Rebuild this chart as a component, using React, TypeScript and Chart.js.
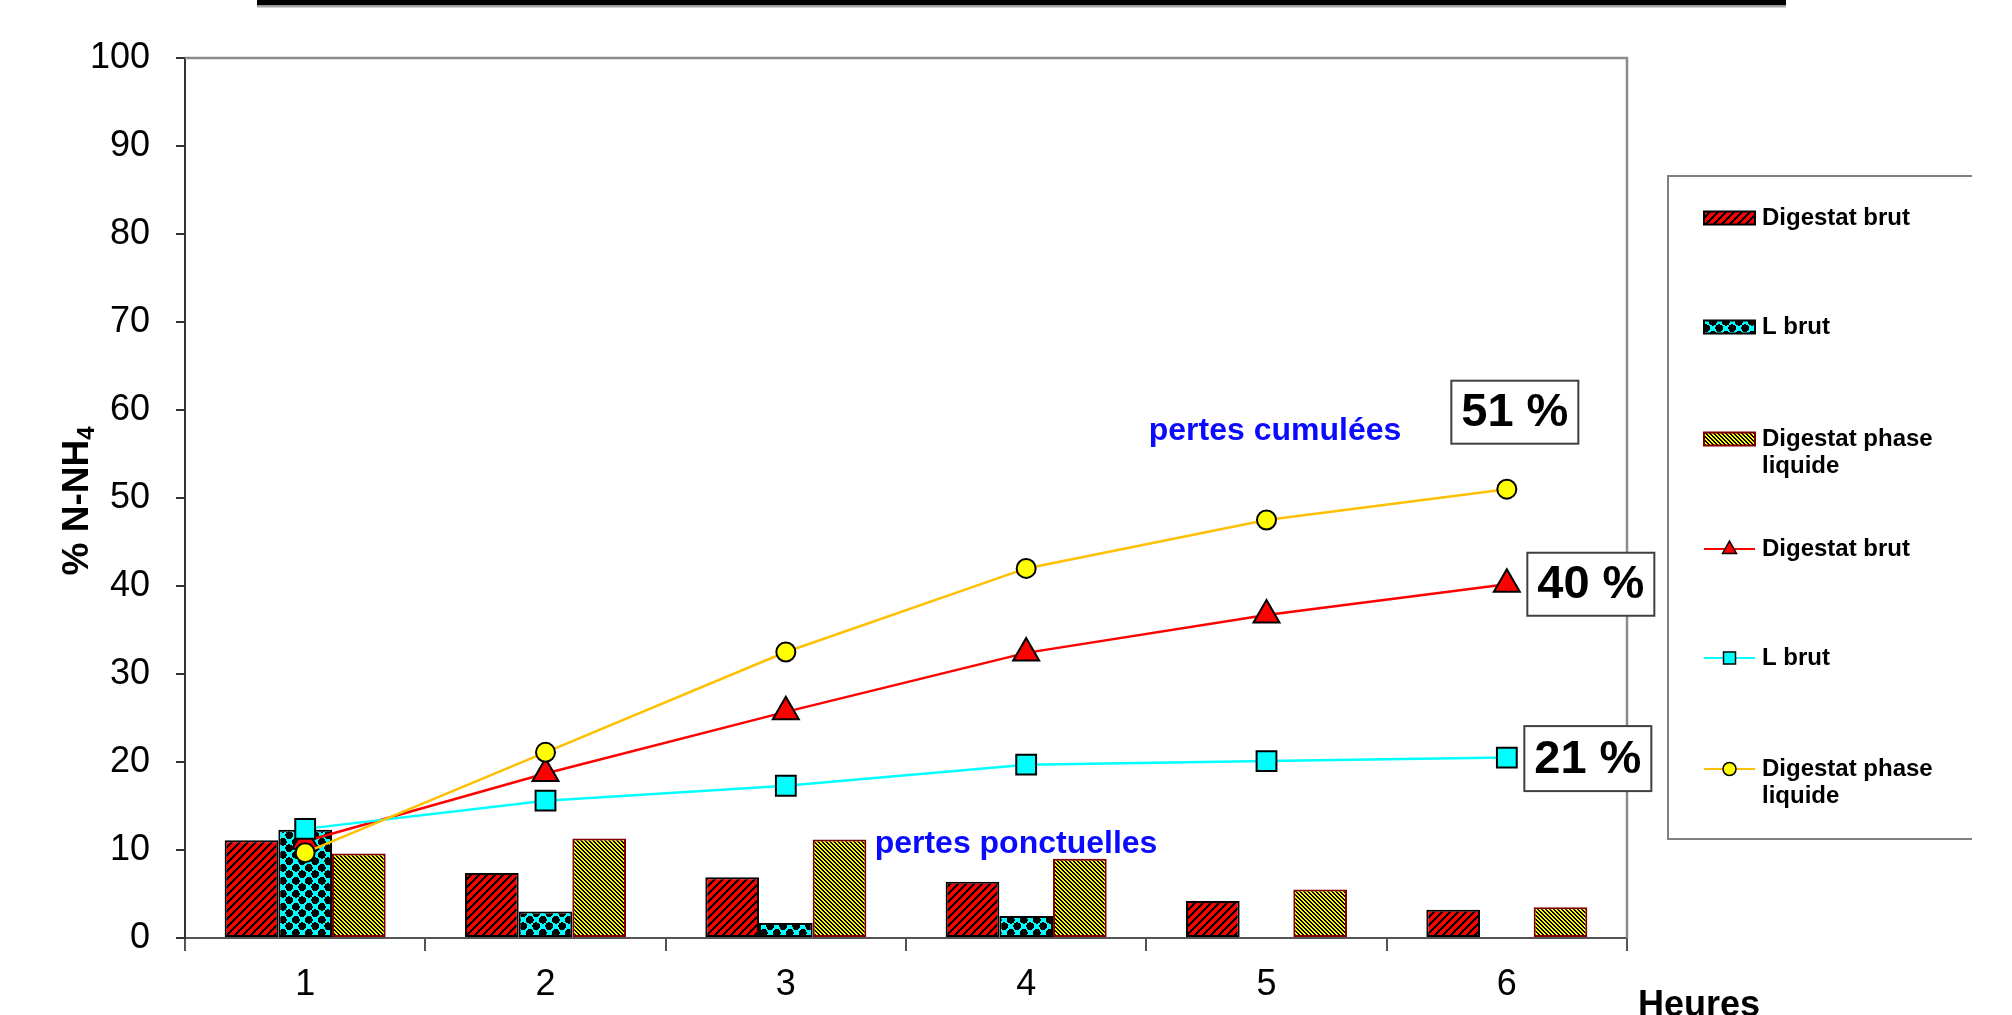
import React, { useEffect, useRef } from 'react';
import { Chart, registerables } from 'chart.js';

Chart.register(...registerables);

// Heures
const HOURS = ['1', '2', '3', '4', '5', '6'];

// Pertes ponctuelles (% N-NH4), bars
const PONCT_DIGESTAT_BRUT = [11.1, 7.4, 6.9, 6.4, 4.2, 3.2];
const PONCT_L_BRUT = [12.3, 3.0, 1.7, 2.5, 0, 0];
const PONCT_PHASE_LIQUIDE = [9.6, 11.3, 11.2, 9.0, 5.5, 3.5];

// Pertes cumulées (% N-NH4), lines
const CUMUL_DIGESTAT_BRUT = [11.0, 18.7, 25.7, 32.4, 36.7, 40.2];
const CUMUL_L_BRUT = [12.4, 15.6, 17.3, 19.7, 20.1, 20.5];
const CUMUL_PHASE_LIQUIDE = [9.7, 21.1, 32.5, 42.0, 47.5, 51.0];

const SERIES_NAMES = ['Digestat brut', 'L brut', 'Digestat phase liquide'];

const Y_MIN = 0;
const Y_MAX = 100;
const Y_STEP = 10;

const FONT = '"Liberation Sans", Arial, Helvetica, sans-serif';

type Ink = (x: number, y: number) => boolean;

function pixelPattern(w: number, h: number, bg: string, fg: string, ink: Ink): CanvasPattern {
  const c = document.createElement('canvas');
  c.width = w;
  c.height = h;
  const g = c.getContext('2d') as CanvasRenderingContext2D;
  g.fillStyle = bg;
  g.fillRect(0, 0, w, h);
  g.fillStyle = fg;
  for (let y = 0; y < h; y++) {
    for (let x = 0; x < w; x++) {
      if (ink(x, y)) g.fillRect(x, y, 1, 1);
    }
  }
  return g.createPattern(c, 'repeat') as CanvasPattern;
}

function makePatterns() {
  // red with black "/" hatching
  const red = pixelPattern(8, 8, '#ff0000', '#000000', (x, y) => (x + y) % 8 < 3);
  // cyan with black dots on a diamond lattice
  const S = 13;
  const centres: [number, number][] = [];
  for (const ox of [-S, 0, S]) {
    for (const oy of [-S, 0, S]) {
      centres.push([S / 4 + ox, S / 4 + oy]);
      centres.push([(3 * S) / 4 + ox, (3 * S) / 4 + oy]);
    }
  }
  const cyan = pixelPattern(S, S, '#00ffff', '#000000', (x, y) =>
    centres.some(([cx, cy]) => Math.hypot(x + 0.5 - cx, y + 0.5 - cy) < 3.9)
  );
  // yellow with dense black "\" hatching
  const yellow = pixelPattern(4, 4, '#ffff00', '#000000', (x, y) => (x - y + 8) % 4 < 2);
  return { red, cyan, yellow };
}

function wrapText(ctx: CanvasRenderingContext2D, text: string, maxW: number): string[] {
  const words = text.split(' ');
  const lines: string[] = [];
  let cur = '';
  for (const w of words) {
    const t = cur ? cur + ' ' + w : w;
    if (cur && ctx.measureText(t).width > maxW) {
      lines.push(cur);
      cur = w;
    } else {
      cur = t;
    }
  }
  if (cur) lines.push(cur);
  return lines;
}

export default function App() {
  const ref = useRef<HTMLCanvasElement | null>(null);

  useEffect(() => {
    const canvas = ref.current;
    if (!canvas) return;
    const pat = makePatterns();

    const barFills = [pat.red, pat.cyan, pat.yellow];
    const barBorders = ['#000000', '#000000', '#800000'];
    const lineColors = ['#ff0000', '#00ffff', '#ffc000'];
    const markerFills = ['#ff0000', '#00ffff', '#ffff00'];
    const markerStyles = ['triangle', 'rect', 'circle'];

    const decor = {
      id: 'decor',
      beforeDatasetsDraw(chart: any) {
        const ctx: CanvasRenderingContext2D = chart.ctx;
        const { left, right, top, bottom } = chart.chartArea;
        ctx.save();
        ctx.strokeStyle = '#8c8c8c';
        ctx.lineWidth = 2.5;
        ctx.beginPath();
        ctx.moveTo(left, top);
        ctx.lineTo(right, top);
        ctx.lineTo(right, bottom);
        ctx.stroke();
        ctx.restore();
      },
      afterDraw(chart: any) {
        const ctx: CanvasRenderingContext2D = chart.ctx;
        ctx.save();

        // header rule
        ctx.fillStyle = '#000000';
        ctx.fillRect(257, 0, 1529, 5.5);
        ctx.fillStyle = '#a8a8a8';
        ctx.fillRect(257, 5.5, 1529, 2);

        // y axis title with subscript
        ctx.save();
        ctx.translate(88, 501);
        ctx.rotate(-Math.PI / 2);
        ctx.fillStyle = '#000';
        ctx.textBaseline = 'alphabetic';
        ctx.textAlign = 'left';
        ctx.font = `bold 24px ${FONT}`;
        const subW = ctx.measureText('4').width;
        ctx.font = `bold 37px ${FONT}`;
        const main = '% N-NH';
        const mainW = ctx.measureText(main).width;
        const start = -(mainW + subW) / 2;
        ctx.fillText(main, start, 0);
        ctx.font = `bold 24px ${FONT}`;
        ctx.fillText('4', start + mainW, 6);
        ctx.restore();

        // x axis title
        ctx.fillStyle = '#000';
        ctx.font = `bold 36px ${FONT}`;
        ctx.textAlign = 'left';
        ctx.textBaseline = 'alphabetic';
        ctx.fillText('Heures', 1638, 1016);

        // annotations
        ctx.fillStyle = '#0a0aff';
        ctx.font = `bold 32px ${FONT}`;
        ctx.textAlign = 'center';
        ctx.textBaseline = 'middle';
        ctx.fillText('pertes cumulées', 1275, 431);
        ctx.fillText('pertes ponctuelles', 1016, 844);

        // end-value call-outs on the cumulative lines
        const callouts = [
          { ds: 5, dx: 8, dy: -77, w: 127, h: 63 },
          { ds: 3, dx: 84, dy: 0, w: 127, h: 63 },
          { ds: 4, dx: 81, dy: 1, w: 127, h: 65 },
        ];
        for (const c of callouts) {
          const meta = chart.getDatasetMeta(c.ds);
          const data = chart.data.datasets[c.ds].data as number[];
          const last = data.length - 1;
          const pt = meta.data[last];
          const cx = pt.x + c.dx;
          const cy = pt.y + c.dy;
          ctx.fillStyle = '#ffffff';
          ctx.fillRect(cx - c.w / 2, cy - c.h / 2, c.w, c.h);
          ctx.strokeStyle = '#404040';
          ctx.lineWidth = 2;
          ctx.strokeRect(cx - c.w / 2, cy - c.h / 2, c.w, c.h);
          ctx.fillStyle = '#000';
          ctx.font = `bold 47px ${FONT}`;
          ctx.textAlign = 'center';
          ctx.textBaseline = 'middle';
          ctx.fillText(`${Math.round(data[last])} %`, cx, cy + 1);
        }

        // legend
        ctx.strokeStyle = '#808080';
        ctx.lineWidth = 2;
        ctx.beginPath();
        ctx.moveTo(1972, 176);
        ctx.lineTo(1668, 176);
        ctx.lineTo(1668, 839);
        ctx.lineTo(1972, 839);
        ctx.stroke();

        const rowsY = [218, 327, 439, 549, 658, 769];
        const sx = 1704;
        const sw = 51;
        const tx = 1762;
        chart.data.datasets.forEach((ds: any, i: number) => {
          const y = rowsY[i];
          if (ds.type === 'bar') {
            ctx.fillStyle = barFills[i];
            ctx.fillRect(sx, y - 6.5, sw, 13);
            ctx.strokeStyle = barBorders[i];
            ctx.lineWidth = 2;
            ctx.strokeRect(sx, y - 6.5, sw, 13);
          } else {
            const k = i - 3;
            ctx.strokeStyle = lineColors[k];
            ctx.lineWidth = 2;
            ctx.beginPath();
            ctx.moveTo(sx, y);
            ctx.lineTo(sx + sw, y);
            ctx.stroke();
            const mx = sx + sw / 2;
            ctx.fillStyle = markerFills[k];
            ctx.strokeStyle = '#000';
            ctx.lineWidth = 1.5;
            ctx.beginPath();
            if (markerStyles[k] === 'triangle') {
              ctx.moveTo(mx, y - 8);
              ctx.lineTo(mx + 7, y + 4.5);
              ctx.lineTo(mx - 7, y + 4.5);
              ctx.closePath();
            } else if (markerStyles[k] === 'rect') {
              ctx.rect(mx - 6, y - 6, 12, 12);
            } else {
              ctx.arc(mx, y, 6.5, 0, Math.PI * 2);
            }
            ctx.fill();
            ctx.stroke();
          }
          ctx.fillStyle = '#000';
          ctx.font = `bold 24px ${FONT}`;
          ctx.textAlign = 'left';
          ctx.textBaseline = 'middle';
          const lines = wrapText(ctx, ds.label, 200);
          lines.forEach((ln, j) => ctx.fillText(ln, tx, y + j * 27));
        });

        ctx.restore();
      },
    };

    const barCommon = {
      type: 'bar' as const,
      borderWidth: 2,
      borderSkipped: false,
      categoryPercentage: 0.67,
      barPercentage: 1.0,
      order: 10,
    };
    const lineCommon = {
      type: 'line' as const,
      borderWidth: 2.5,
      tension: 0,
      pointBorderColor: '#000000',
      pointBorderWidth: 2,
      fill: false,
    };

    const chart = new Chart(canvas, {
      type: 'bar',
      data: {
        labels: HOURS,
        datasets: [
          { ...barCommon, label: SERIES_NAMES[0], data: PONCT_DIGESTAT_BRUT, backgroundColor: pat.red, borderColor: barBorders[0] },
          { ...barCommon, label: SERIES_NAMES[1], data: PONCT_L_BRUT, backgroundColor: pat.cyan, borderColor: barBorders[1] },
          { ...barCommon, label: SERIES_NAMES[2], data: PONCT_PHASE_LIQUIDE, backgroundColor: pat.yellow, borderColor: barBorders[2] },
          {
            ...lineCommon, label: SERIES_NAMES[0], data: CUMUL_DIGESTAT_BRUT,
            borderColor: lineColors[0], pointStyle: 'triangle', pointRadius: 15,
            pointBackgroundColor: markerFills[0], order: 3,
          },
          {
            ...lineCommon, label: SERIES_NAMES[1], data: CUMUL_L_BRUT,
            borderColor: lineColors[1], pointStyle: 'rect', pointRadius: 14,
            pointBackgroundColor: markerFills[1], order: 2,
          },
          {
            ...lineCommon, label: SERIES_NAMES[2], data: CUMUL_PHASE_LIQUIDE,
            borderColor: lineColors[2], pointStyle: 'circle', pointRadius: 9.5,
            pointBackgroundColor: markerFills[2], order: 1,
          },
        ] as any,
      },
      options: {
        animation: false,
        responsive: false,
        devicePixelRatio: 1,
        events: [],
        layout: { padding: { top: 58, right: 385, left: 0, bottom: 0 } },
        plugins: {
          legend: { display: false },
          tooltip: { enabled: false },
          title: { display: false },
        },
        scales: {
          x: {
            offset: true,
            grid: { offset: true, drawOnChartArea: false, drawTicks: true, tickLength: 13, color: '#555555', lineWidth: 2 },
            border: { display: true, color: '#555555', width: 2 },
            ticks: { color: '#000', font: { family: FONT, size: 36 }, padding: 12 },
            afterFit: (s: any) => { s.height = 77; },
          },
          y: {
            min: Y_MIN,
            max: Y_MAX,
            ticks: { stepSize: Y_STEP, color: '#000', font: { family: FONT, size: 36 }, padding: 26 },
            grid: { drawOnChartArea: false, drawTicks: true, tickLength: 9, color: '#333333', lineWidth: 2 },
            border: { display: true, color: '#333333', width: 2 },
            afterFit: (s: any) => { s.width = 185; },
          },
        },
      } as any,
      plugins: [decor],
    });

    return () => chart.destroy();
  }, []);

  return (
    <div style={{ position: 'fixed', left: 0, top: 0, width: 2012, height: 1015, background: '#ffffff' }}>
      <canvas ref={ref} width={2012} height={1015} style={{ display: 'block' }} />
    </div>
  );
}
